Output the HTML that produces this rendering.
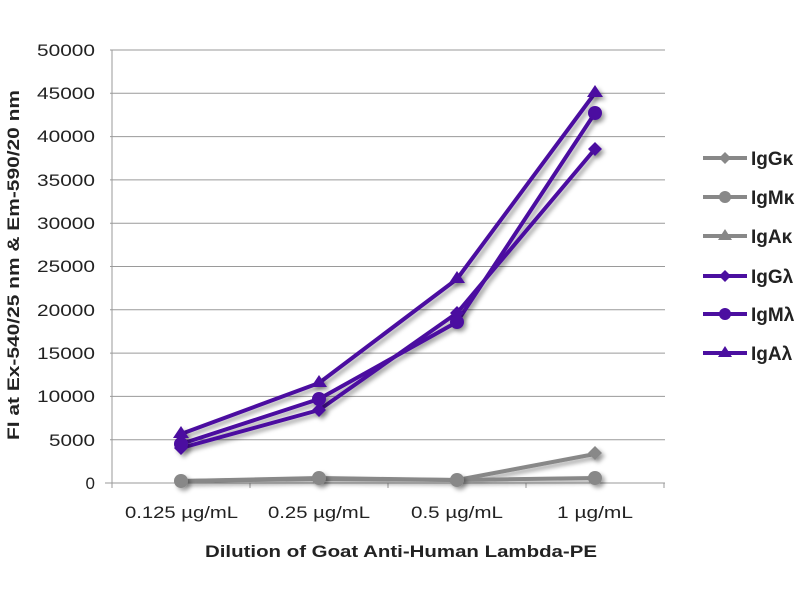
<!DOCTYPE html>
<html><head><meta charset="utf-8"><style>body{margin:0;background:#fff}svg{display:block}</style></head>
<body>
<svg width="800" height="600" xmlns="http://www.w3.org/2000/svg" font-family="Liberation Sans, sans-serif">
<defs><filter id="sh" x="-20%" y="-20%" width="140%" height="140%"><feDropShadow dx="3" dy="3" stdDeviation="2" flood-color="#000" flood-opacity="0.35"/></filter></defs>
<g stroke="#9a9a9a" stroke-width="1">
<line x1="110" y1="50" x2="665" y2="50"/><line x1="110" y1="93.3" x2="665" y2="93.3"/><line x1="110" y1="136.6" x2="665" y2="136.6"/><line x1="110" y1="179.9" x2="665" y2="179.9"/><line x1="110" y1="223.2" x2="665" y2="223.2"/><line x1="110" y1="266.5" x2="665" y2="266.5"/><line x1="110" y1="309.8" x2="665" y2="309.8"/><line x1="110" y1="353.1" x2="665" y2="353.1"/><line x1="110" y1="396.4" x2="665" y2="396.4"/><line x1="110" y1="439.7" x2="665" y2="439.7"/><line x1="105" y1="483" x2="665" y2="483"/>
<line x1="112" y1="50" x2="112" y2="488"/><line x1="250" y1="483" x2="250" y2="488"/><line x1="388" y1="483" x2="388" y2="488"/><line x1="526" y1="483" x2="526" y2="488"/><line x1="664" y1="483" x2="664" y2="488"/>
</g>
<g font-size="17" fill="#222" text-anchor="end">
<text x="95" y="56" textLength="58" lengthAdjust="spacingAndGlyphs">50000</text><text x="95" y="99" textLength="58" lengthAdjust="spacingAndGlyphs">45000</text><text x="95" y="142" textLength="58" lengthAdjust="spacingAndGlyphs">40000</text><text x="95" y="186" textLength="58" lengthAdjust="spacingAndGlyphs">35000</text><text x="95" y="229" textLength="58" lengthAdjust="spacingAndGlyphs">30000</text><text x="95" y="272" textLength="58" lengthAdjust="spacingAndGlyphs">25000</text><text x="95" y="316" textLength="58" lengthAdjust="spacingAndGlyphs">20000</text><text x="95" y="359" textLength="58" lengthAdjust="spacingAndGlyphs">15000</text><text x="95" y="402" textLength="58" lengthAdjust="spacingAndGlyphs">10000</text><text x="95" y="446" textLength="46" lengthAdjust="spacingAndGlyphs">5000</text><text x="95" y="489">0</text>
</g>
<g font-size="17" fill="#222">
<text x="125" y="518" textLength="113" lengthAdjust="spacingAndGlyphs">0.125 µg/mL</text><text x="268" y="518" textLength="102" lengthAdjust="spacingAndGlyphs">0.25 µg/mL</text><text x="411" y="518" textLength="92" lengthAdjust="spacingAndGlyphs">0.5 µg/mL</text><text x="557" y="518" textLength="76" lengthAdjust="spacingAndGlyphs">1 µg/mL</text>
</g>
<text x="205" y="557" font-size="17" font-weight="bold" fill="#222" textLength="392" lengthAdjust="spacingAndGlyphs">Dilution of Goat Anti-Human Lambda-PE</text>
<text transform="translate(19,440) rotate(-90)" font-size="17" font-weight="bold" fill="#222" textLength="350" lengthAdjust="spacingAndGlyphs">FI at Ex-540/25 nm &amp; Em-590/20 nm</text>
<g filter="url(#sh)" stroke-width="4" fill="none" stroke-linejoin="round">
<polyline stroke="#888" points="181,481 319,478 457,480 595,454"/>
<polyline stroke="#888" points="181,481 319,479 457,480 595,478"/>
<polyline stroke="#4b0fa0" points="181,448 319,410 457,313 595,149"/>
<polyline stroke="#4b0fa0" points="181,444 319,399 457,322 595,113"/>
<polyline stroke="#4b0fa0" points="181,434 319,383 457,279 595,93"/>
</g>
<g filter="url(#sh)">
<g fill="#888"><circle cx="181" cy="481" r="7"/><circle cx="319" cy="478" r="7"/><circle cx="457" cy="480" r="7"/><circle cx="595" cy="478" r="7"/><path d="M595 446l7 7-7 7-7-7z"/></g>
<g fill="#4b0fa0"><path d="M181 441l7 7-7 7-7-7zM319 403l7 7-7 7-7-7zM457 306l7 7-7 7-7-7zM595 142l7 7-7 7-7-7z"/>
<circle cx="181" cy="444" r="7"/><circle cx="319" cy="399" r="7"/><circle cx="457" cy="322" r="7"/><circle cx="595" cy="113" r="7"/>
<path d="M181 426l8 12h-16zM319 375l8 12h-16zM457 271l8 12h-16zM595 85l8 12h-16z"/></g>
</g>
<g stroke-width="4">
<line x1="703" y1="158" x2="747" y2="158" stroke="#888"/><line x1="703" y1="197" x2="747" y2="197" stroke="#888"/><line x1="703" y1="236" x2="747" y2="236" stroke="#888"/>
<line x1="703" y1="276" x2="747" y2="276" stroke="#4b0fa0"/><line x1="703" y1="314" x2="747" y2="314" stroke="#4b0fa0"/><line x1="703" y1="353" x2="747" y2="353" stroke="#4b0fa0"/>
</g>
<g fill="#888"><path d="M725 152l6 6-6 6-6-6z"/><circle cx="725" cy="197" r="6"/><path d="M725 229l7 11h-14z"/></g>
<g fill="#4b0fa0"><path d="M725 270l6 6-6 6-6-6z"/><circle cx="725" cy="314" r="6"/><path d="M725 346l7 11h-14z"/></g>
<g font-size="19" font-weight="bold" fill="#222">
<text x="751" y="165">IgGκ</text><text x="751" y="204">IgMκ</text><text x="751" y="243">IgAκ</text><text x="751" y="283">IgGλ</text><text x="751" y="321">IgMλ</text><text x="751" y="360">IgAλ</text>
</g>
</svg>
</body></html>
